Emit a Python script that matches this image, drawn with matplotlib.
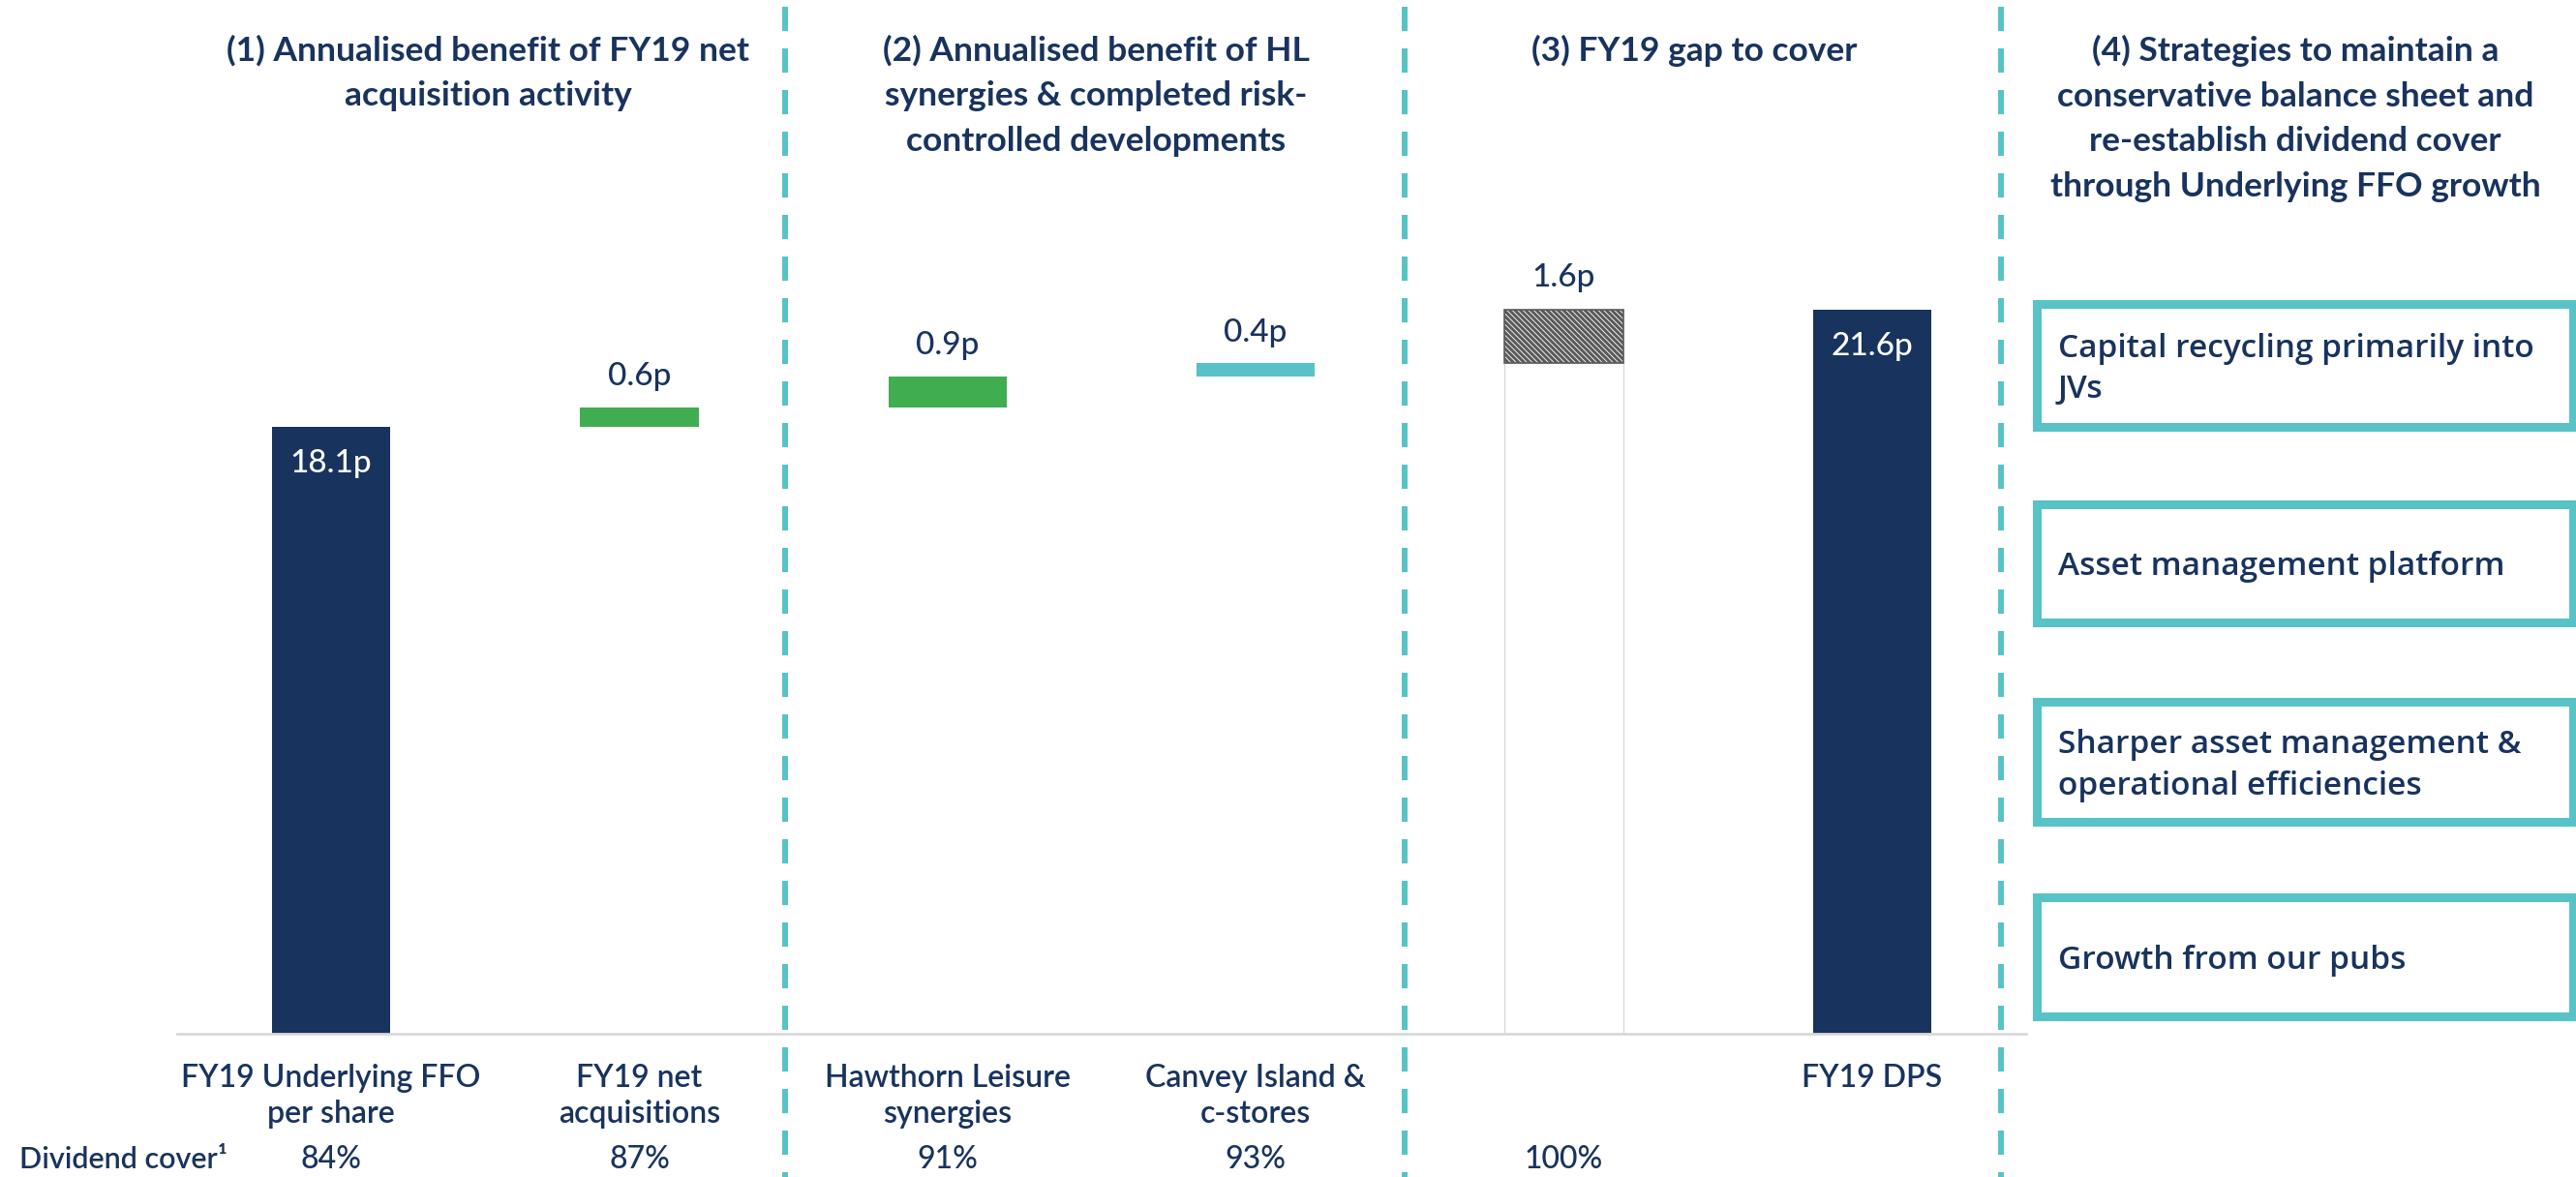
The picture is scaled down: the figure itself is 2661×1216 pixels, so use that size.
import matplotlib
matplotlib.use("Agg")
import matplotlib.pyplot as plt
from matplotlib.lines import Line2D
from matplotlib.patches import Rectangle

# ---- data -------------------------------------------------------------
CATEGORIES = [
    "FY19 Underlying FFO\nper share",
    "FY19 net\nacquisitions",
    "Hawthorn Leisure\nsynergies",
    "Canvey Island &\nc-stores",
    "",
    "FY19 DPS",
]
VALUES = [18.1, 0.6, 0.9, 0.4, 1.6, 21.6]
KINDS = ["total", "step", "step", "step", "gap", "total"]
VALUE_LABELS = ["18.1p", "0.6p", "0.9p", "0.4p", "1.6p", "21.6p"]
COVER_LABELS = ["84%", "87%", "91%", "93%", "100%", ""]
COVER_TITLE = "Dividend cover\u00b9"

SECTION_TITLES = [
    "(1) Annualised benefit of FY19 net\nacquisition activity",
    "(2) Annualised benefit of HL\nsynergies & completed risk-\ncontrolled developments",
    "(3) FY19 gap to cover",
    "(4) Strategies to maintain a\nconservative balance sheet and\nre-establish dividend cover\nthrough Underlying FFO growth",
]
STRATEGIES = [
    "Capital recycling primarily into\nJVs",
    "Asset management platform",
    "Sharper asset management &\noperational efficiencies",
    "Growth from our pubs",
]

# ---- style ------------------------------------------------------------
NAVY = "#18335e"
GREEN = "#41ad51"
TEAL = "#57c3c7"
BAR_COLORS = [NAVY, GREEN, GREEN, TEAL, "white", NAVY]
FONT = "Lato"
BOX_FONT = "Open Sans"

W, H = 2661, 1216
DPI = 100
plt.rcParams["hatch.linewidth"] = 2.2


def fx(px):
    return px / W


def fy(py):
    return 1 - py / H


fig = plt.figure(figsize=(W / DPI, H / DPI), dpi=DPI)
fig.patch.set_facecolor("white")

# bar axes: baseline at y=1068px, x from 183 to 2093 px
ax = fig.add_axes([fx(183), fy(1068), fx(2093) - fx(183), fy(121) - fy(1068)])
ax.set_xlim(-0.5, 5.5)
ax.set_ylim(0, 27.35)
for s in ["top", "right", "left"]:
    ax.spines[s].set_visible(False)
ax.spines["bottom"].set_color("#d9d9d9")
ax.spines["bottom"].set_linewidth(2)
ax.set_xticks([])
ax.set_yticks([])
ax.patch.set_alpha(0)

running = 0.0
bar_w = 0.385
for i, (val, kind) in enumerate(zip(VALUES, KINDS)):
    if kind == "total":
        running = val
        ax.bar(i, val, width=bar_w, color=BAR_COLORS[i], linewidth=0)
        ax.annotate(VALUE_LABELS[i], (i, val), xytext=(0, -27), textcoords="offset points",
                    ha="center", va="center", color="white", fontsize=24,
                    family=FONT, fontweight="medium")
    elif kind == "step":
        bottom = running
        running += val
        ax.bar(i, val, bottom=bottom, width=bar_w, color=BAR_COLORS[i], linewidth=0)
        ax.annotate(VALUE_LABELS[i], (i, running), xytext=(0, 23), textcoords="offset points",
                    ha="center", va="center", color=NAVY, fontsize=24,
                    family=FONT, fontweight="medium")
    else:
        # gap bar: white body up to running total, hatched top for the gap
        ax.bar(i, running, width=bar_w, color="white", edgecolor="#d4d4d4", linewidth=0.8)
        ax.bar(i, val, bottom=running, width=bar_w, color="white", edgecolor="#5a5a5a",
               hatch="\\\\\\\\\\\\", linewidth=1.2)
        ax.annotate(VALUE_LABELS[i], (i, running + val), xytext=(0, 24), textcoords="offset points",
                    ha="center", va="center", color=NAVY, fontsize=24,
                    family=FONT, fontweight="medium")

# category labels and dividend cover row
for i, (cat, cov) in enumerate(zip(CATEGORIES, COVER_LABELS)):
    xfig = fig.transFigure.inverted().transform(ax.transData.transform((i, 0)))[0]
    if cat:
        fig.text(xfig, fy(1099), cat, ha="center", va="top", color=NAVY, fontsize=23,
                 family=FONT, fontweight="semibold", linespacing=1.28)
    if cov:
        fig.text(xfig, fy(1198), cov, ha="center", va="center", color=NAVY, fontsize=23,
                 family=FONT, fontweight="medium")
fig.text(fx(20), fy(1198), COVER_TITLE, ha="left", va="center", color=NAVY, fontsize=22,
         family=FONT, fontweight="semibold")

# section titles
title_x = [504, 1132, 1750, 2371]
for tx, title in zip(title_x, SECTION_TITLES):
    fig.text(fx(tx), fy(36), title, ha="center", va="top", color=NAVY, fontsize=25.5,
             family=FONT, fontweight="bold", linespacing=1.56)

# dashed dividers
for dx in [811, 1451, 2067]:
    fig.add_artist(Line2D([fx(dx), fx(dx)], [fy(7), 0], transform=fig.transFigure,
                          color=TEAL, linewidth=4.3, linestyle=(0, (4.2, 3.0))))

# strategy boxes
boxes = [(314, 441), (521, 643), (725, 849), (927, 1050)]
for (top, bot), label in zip(boxes, STRATEGIES):
    fig.add_artist(Rectangle((fx(2104), fy(bot)), fx(2658) - fx(2104), fy(top) - fy(bot),
                             transform=fig.transFigure, fill=False, edgecolor=TEAL,
                             linewidth=6.5))
    fig.text(fx(2126), fy((top + bot) / 2 + 4), label, ha="left", va="center", color=NAVY,
             fontsize=24, family=BOX_FONT, fontweight="semibold", linespacing=1.38)

fig.savefig("out.png", dpi=DPI, facecolor="white")
